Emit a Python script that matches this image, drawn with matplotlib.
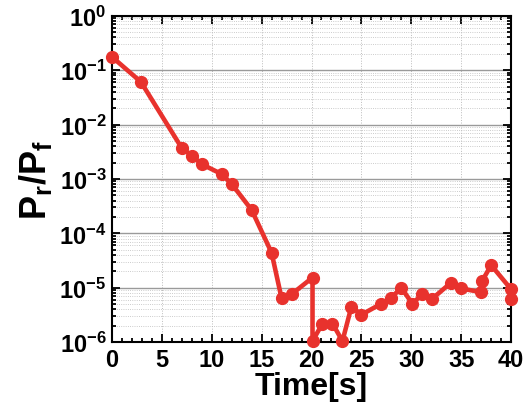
import numpy as np
import matplotlib
matplotlib.use("Agg")
import matplotlib.pyplot as plt
from matplotlib.ticker import LogLocator, MultipleLocator, NullFormatter

# data
time_s = [0.0, 2.9, 7.0, 8.0, 9.0, 11.0, 12.0, 14.0, 16.0, 17.0, 18.0, 20.1,
          20.1, 21.1, 22.1, 23.1, 24.0, 25.0, 27.0, 28.0, 29.0, 30.1, 31.1,
          32.1, 34.0, 35.0, 37.0, 37.1, 38.0, 40.0, 40.0]
ratio = [0.176, 0.061, 3.7e-3, 2.7e-3, 1.87e-3, 1.23e-3, 8.1e-4, 2.7e-4, 4.4e-5,
         6.4e-6, 7.6e-6, 1.54e-5, 1.05e-6, 2.2e-6, 2.2e-6, 1.05e-6, 4.5e-6,
         3.2e-6, 5.1e-6, 6.6e-6, 1.0e-5, 5.1e-6, 7.6e-6, 6.3e-6, 1.25e-5,
         9.7e-6, 8.3e-6, 1.34e-5, 2.6e-5, 9.4e-6, 6.3e-6]

plt.rcParams['font.family'] = 'Liberation Sans'
plt.rcParams['font.weight'] = 'bold'
plt.rcParams['mathtext.fontset'] = 'custom'
plt.rcParams['mathtext.rm'] = 'Liberation Sans:bold'
plt.rcParams['mathtext.bf'] = 'Liberation Sans:bold'
plt.rcParams['mathtext.it'] = 'Liberation Sans:bold'
plt.rcParams['mathtext.sf'] = 'Liberation Sans:bold'

fig = plt.figure(figsize=(5.28, 4.10), dpi=100)
ax = fig.add_axes([0.212, 0.163, 0.756, 0.796])

ax.plot(time_s, ratio, color='#e8322d', lw=3.3, marker='o', ms=8.5,
        clip_on=False, zorder=3)

ax.set_yscale('log')
ax.set_xlim(0, 40)
ax.set_ylim(1e-6, 1)

ax.xaxis.set_major_locator(MultipleLocator(5))
ax.xaxis.set_minor_locator(MultipleLocator(1))
ax.yaxis.set_major_locator(LogLocator(base=10, numticks=10))
ax.yaxis.set_minor_locator(LogLocator(base=10, subs=np.arange(2, 10), numticks=20))
ax.yaxis.set_minor_formatter(NullFormatter())

# grid
ax.grid(True, which='major', axis='y', color='#9a9a9a', lw=1.0, ls='-')
ax.grid(True, which='minor', axis='y', color='#bbbbbb', lw=0.6, ls=':')
ax.grid(True, which='major', axis='x', color='#bbbbbb', lw=0.7, ls=':')
ax.set_axisbelow(True)

ax.tick_params(which='both', direction='in', top=True, right=True, width=1.3)
ax.tick_params(which='major', length=6, labelsize=17, pad=4)
ax.tick_params(which='minor', length=3)
for s in ax.spines.values():
    s.set_linewidth(1.5)

ax.set_xlabel('Time[s]', fontsize=23, fontweight='bold', labelpad=0)
ax.set_ylabel(r'$\mathrm{P_r/P_f}$', fontsize=26, labelpad=4)

fig.savefig('out.png', dpi=100)
